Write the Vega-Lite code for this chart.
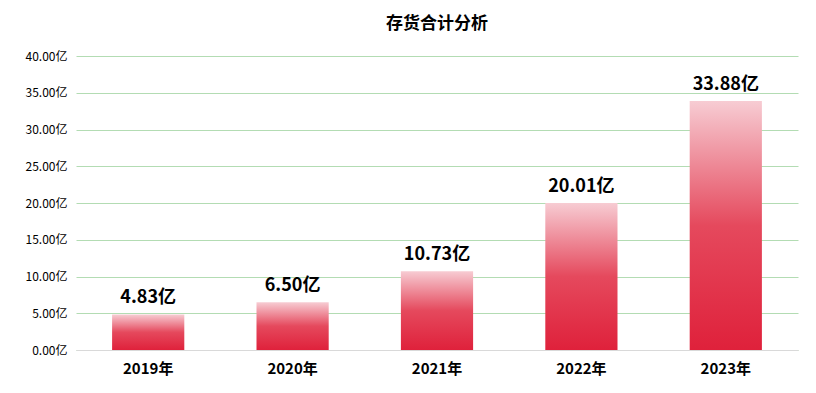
{
  "$schema": "https://vega.github.io/schema/vega-lite/v6.json",
  "width": 722,
  "height": 294,
  "autosize": "none",
  "padding": {"left": 76, "top": 56, "right": 18, "bottom": 43},
  "background": "white",
  "title": {"text": "存货合计分析", "font": "Noto Sans CJK SC", "fontSize": 17, "fontWeight": "bold", "color": "#000000", "offset": 17},
  "config": {"view": {"stroke": null}},
  "data": {"values": [
    {"year": "2019年", "value": 4.83},
    {"year": "2020年", "value": 6.50},
    {"year": "2021年", "value": 10.73},
    {"year": "2022年", "value": 20.01},
    {"year": "2023年", "value": 33.88}
  ]},
  "transform": [{"calculate": "format(datum.value, '.2f') + '亿'", "as": "label"}],
  "encoding": {
    "x": {"field": "year", "type": "nominal", "sort": null,
      "scale": {"paddingInner": 0.5, "paddingOuter": 0.25},
      "axis": {"title": null, "labelAngle": 0, "labelFont": "Noto Sans CJK SC", "labelFontSize": 15, "labelFontWeight": "bold", "labelColor": "#000000", "ticks": false, "domainColor": "#d9d9d9", "labelPadding": 11}},
    "y": {"field": "value", "type": "quantitative",
      "scale": {"domain": [0, 40]},
      "axis": {"title": null, "values": [0, 5, 10, 15, 20, 25, 30, 35, 40], "labelExpr": "format(datum.value, '.2f') + '亿'", "labelFont": "Noto Sans CJK SC", "labelFontSize": 12, "labelColor": "#000000", "ticks": false, "domain": false, "gridColor": "#b3dcb3", "labelPadding": 9}}
  },
  "layer": [
    {"mark": {"type": "bar", "color": {"gradient": "linear", "x1": 0, "y1": 0, "x2": 0, "y2": 1, "stops": [{"offset": 0, "color": "#f7ccd3"}, {"offset": 0.5, "color": "#e5495d"}, {"offset": 1, "color": "#df213b"}]}}},
    {"mark": {"type": "text", "dy": -16, "font": "Noto Sans CJK SC", "fontSize": 18, "fontWeight": "bold", "color": "#000000"},
      "encoding": {"text": {"field": "label", "type": "nominal"}}}
  ]
}
